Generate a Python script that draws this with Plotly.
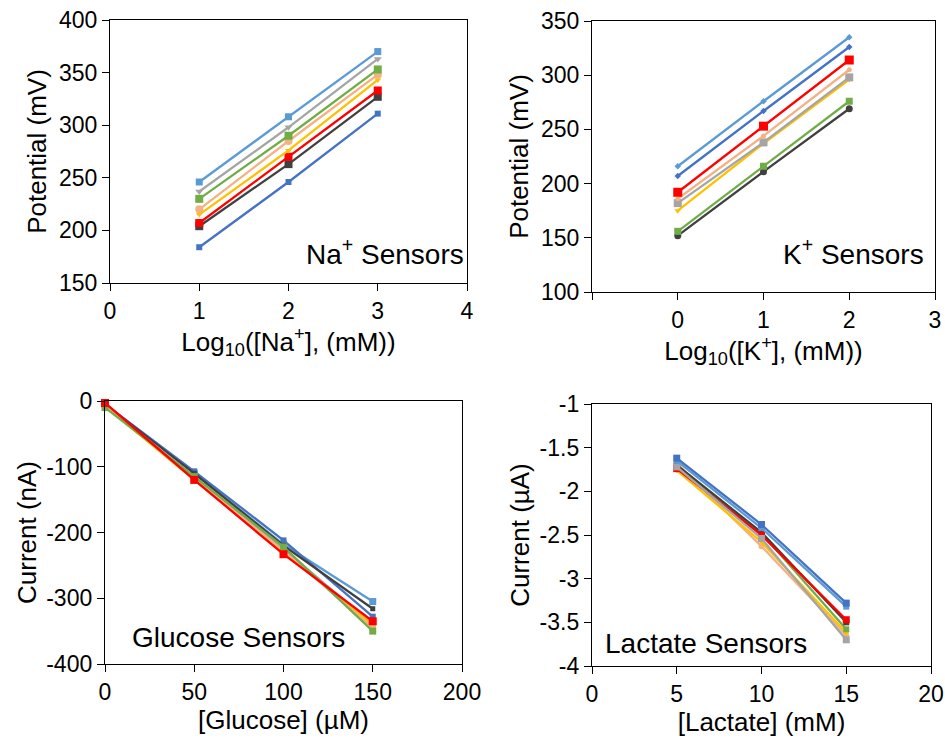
import plotly.graph_objects as go

# ---------------- data ----------------
na_x = [1, 2, 3]
na_lightblue = [246, 308, 370]
na_gray = [237, 298, 363]
na_green = [230, 290, 353]
na_salmon = [220, 285, 348]
na_gold = [215, 276, 343]
na_red = [207, 270, 333]
na_dark = [204, 263, 327]
na_blue = [184, 246, 311]

k_x = [0, 1, 2]
k_lightblue = [216, 276, 335]
k_blue = [207, 267, 326]
k_red = [192, 253, 314]
k_salmon = [186, 244, 305]
k_gray = [182, 238, 298]
k_gold = [175, 237, 296]
k_green = [156, 216, 276]
k_dark = [152, 211, 269]

glu_x = [0, 50, 100, 150]
glu_lightblue = [-5, -110, -218, -305]
glu_blue = [-5, -107, -212, -328]
glu_dark = [-5, -110, -220, -316]
glu_gray = [-7, -115, -225, -340]
glu_gold = [-8, -120, -230, -340]
glu_salmon = [-6, -118, -228, -345]
glu_green = [-10, -115, -222, -350]
glu_red = [-3, -120, -233, -335]

lac_x = [5, 10, 15]
lac_blue = [-1.62, -2.38, -3.28]
lac_lightblue = [-1.65, -2.42, -3.32]
lac_dark = [-1.70, -2.47, -3.50]
lac_red = [-1.74, -2.50, -3.47]
lac_green = [-1.70, -2.48, -3.58]
lac_gold = [-1.76, -2.58, -3.62]
lac_salmon = [-1.68, -2.63, -3.65]
lac_gray = [-1.72, -2.54, -3.70]

# tick labels
na_xticks = [0, 1, 2, 3, 4]
na_yticks = [150, 200, 250, 300, 350, 400]
k_xticks = [-1, 0, 1, 2, 3]
k_xticktext = ["", "0", "1", "2", "3"]
k_yticks = [100, 150, 200, 250, 300, 350]
glu_xticks = [0, 50, 100, 150, 200]
glu_yticks = [0, -100, -200, -300, -400]
glu_yticktext = ["0", "-100", "-200", "-300", "-400"]
lac_xticks = [0, 5, 10, 15, 20]
lac_yticks = [-1, -1.5, -2, -2.5, -3, -3.5, -4]
lac_yticktext = ["-1", "-1.5", "-2", "-2.5", "-3", "-3.5", "-4"]

C = dict(lightblue="#5B9BD5", blue="#4472C4", gray="#A5A5A5", green="#70AD47",
         salmon="#F4B183", gold="#FFC000", red="#FF0000", dark="#404040")

FONT = "Liberation Sans, Arial, sans-serif"
fig = go.Figure()


def add(xs, ys, color, sym, size, xa, ya):
    fig.add_trace(go.Scatter(x=xs, y=ys, mode="lines+markers",
                             line=dict(color=color, width=2.3),
                             marker=dict(color=color, symbol=sym, size=size),
                             cliponaxis=False,
                             xaxis=xa, yaxis=ya, showlegend=False))


na_series = [(na_blue, "blue", "square", 6), (na_dark, "dark", "square", 8),
             (na_red, "red", "square", 8), (na_gold, "gold", "triangle-down", 6),
             (na_salmon, "salmon", "circle", 8), (na_green, "green", "square", 8),
             (na_gray, "gray", "triangle-down", 7), (na_lightblue, "lightblue", "square", 7)]
for ys, c, s, sz in na_series:
    add(na_x, ys, C[c], s, sz, "x", "y")

k_series = [(k_dark, "dark", "circle", 7), (k_green, "green", "square", 7),
            (k_gold, "gold", "triangle-down", 6), (k_gray, "gray", "square", 8),
            (k_salmon, "salmon", "circle", 5), (k_red, "red", "square", 9),
            (k_blue, "blue", "diamond", 5), (k_lightblue, "lightblue", "diamond", 5)]
for ys, c, s, sz in k_series:
    add(k_x, ys, C[c], s, sz, "x2", "y2")

glu_series = [(glu_lightblue, "lightblue", "square", 7), (glu_blue, "blue", "square", 6),
              (glu_dark, "dark", "square", 5), (glu_gray, "gray", "square", 6),
              (glu_gold, "gold", "square", 6), (glu_salmon, "salmon", "circle", 6),
              (glu_green, "green", "square", 7), (glu_red, "red", "square", 8)]
for ys, c, s, sz in glu_series:
    add(glu_x, ys, C[c], s, sz, "x3", "y3")

lac_series = [(lac_salmon, "salmon", "circle", 6), (lac_gold, "gold", "triangle-down", 6),
              (lac_green, "green", "square", 6), (lac_dark, "dark", "square", 6),
              (lac_red, "red", "square", 7), (lac_gray, "gray", "square", 7),
              (lac_lightblue, "lightblue", "square", 6), (lac_blue, "blue", "square", 7)]
for ys, c, s, sz in lac_series:
    add(lac_x, ys, C[c], s, sz, "x4", "y4")

W, H = 945, 740


def dx(a, b):
    return [a / W, b / W]


def dy(top, bot):
    return [1 - bot / H, 1 - top / H]


ax_common = dict(showline=True, linecolor="black", linewidth=1.3, mirror=True,
                 ticks="outside", ticklen=7, tickcolor="black", tickwidth=1.3,
                 showgrid=False, zeroline=False, automargin=False,
                 tickfont=dict(family=FONT, size=23, color="black"),
                 title_font=dict(family=FONT, size=26, color="black"))

fig.update_layout(
    width=W, height=H, margin=dict(l=0, r=0, t=0, b=0),
    paper_bgcolor="white", plot_bgcolor="white", showlegend=False,
    xaxis=dict(ax_common, domain=dx(110, 467), range=[0, 4], tickvals=na_xticks,
               anchor="y", title=dict(text="Log<sub>10</sub>([Na<sup>+</sup>], (mM))", standoff=0)),
    yaxis=dict(ax_common, domain=dy(20, 283), range=[150, 400], tickvals=na_yticks,
               anchor="x", title=dict(text="Potential (mV)", standoff=4)),
    xaxis2=dict(ax_common, domain=dx(592, 935), range=[-1, 3], tickvals=k_xticks,
                ticktext=k_xticktext,
                anchor="y2", title=dict(text="Log<sub>10</sub>([K<sup>+</sup>], (mM))", standoff=0)),
    yaxis2=dict(ax_common, domain=dy(21, 292), range=[100, 350], tickvals=k_yticks,
                anchor="x2", title=dict(text="Potential (mV)", standoff=4)),
    xaxis3=dict(ax_common, domain=dx(105, 462), range=[0, 200], tickvals=glu_xticks,
                anchor="y3", title=dict(text="[Glucose] (µM)", standoff=0)),
    yaxis3=dict(ax_common, domain=dy(401, 664), range=[-400, 0], tickvals=glu_yticks,
                ticktext=glu_yticktext,
                anchor="x3", title=dict(text="Current (nA)", standoff=2)),
    xaxis4=dict(ax_common, domain=dx(592, 931), range=[0, 20], tickvals=lac_xticks,
                anchor="y4", title=dict(text="[Lactate] (mM)", standoff=0)),
    yaxis4=dict(ax_common, domain=dy(404, 666), range=[-4, -1], tickvals=lac_yticks,
                ticktext=lac_yticktext,
                anchor="x4", title=dict(text="Current (µA)", standoff=2)),
)

ann_font = dict(family=FONT, size=28, color="black")
fig.add_annotation(x=3.99, y=179.5, xref="x", yref="y", text="Na<sup>+</sup> Sensors",
                   showarrow=False, xanchor="right", yanchor="middle", font=ann_font)
fig.add_annotation(x=2.9, y=137, xref="x2", yref="y2", text="K<sup>+</sup> Sensors",
                   showarrow=False, xanchor="right", yanchor="middle", font=ann_font)
fig.add_annotation(x=14, y=-359, xref="x3", yref="y3", text="Glucose Sensors",
                   showarrow=False, xanchor="left", yanchor="middle", font=ann_font)
fig.add_annotation(x=0.65, y=-3.74, xref="x4", yref="y4", text="Lactate Sensors",
                   showarrow=False, xanchor="left", yanchor="middle", font=ann_font)

fig.write_html("out.html")
